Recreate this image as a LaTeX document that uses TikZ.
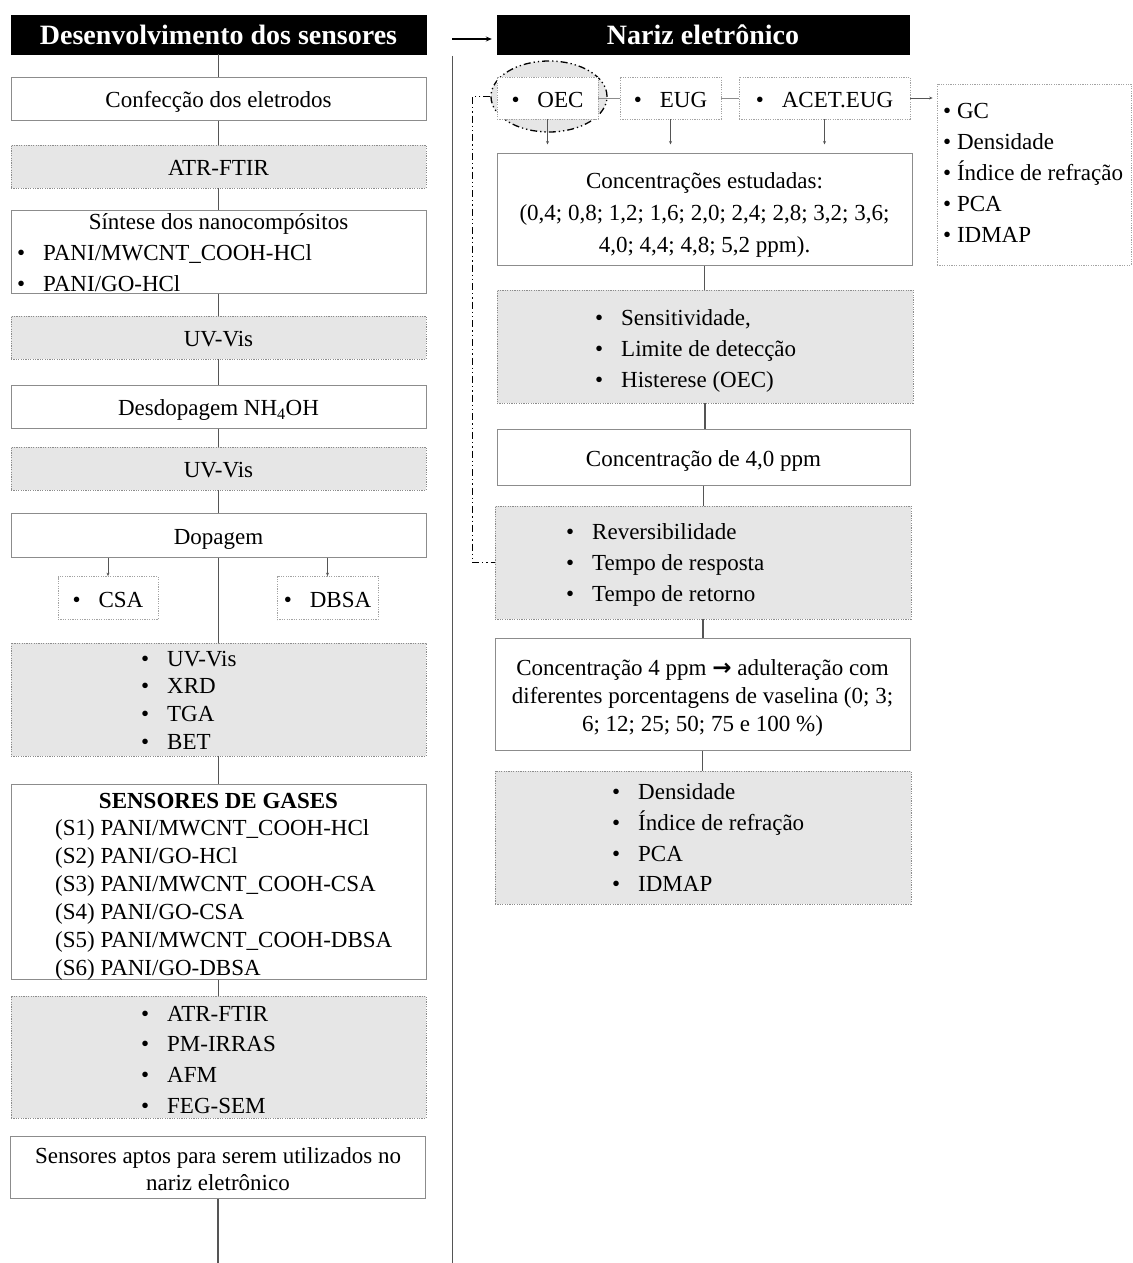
\documentclass[tikz,border=0pt]{standalone}
\usepackage{fontspec}
\setmainfont{Liberation Serif}
\newfontfamily\arrowfont{DejaVu Sans}
\usetikzlibrary{shapes.geometric,arrows.meta}
\definecolor{boxgray}{HTML}{E6E6E6}
\definecolor{edgegray}{HTML}{8C8C8C}
\definecolor{linkgray}{HTML}{555555}
\newcommand{\bul}{\makebox[26pt][l]{•}}
\newcommand{\bodyfont}{\fontsize{23}{27.7}\selectfont}

\begin{document}
\begin{tikzpicture}[x=1pt,y=-1pt,
    font=\bodyfont,
    titlebox/.style={fill=black,draw=black,text=white,font=\fontsize{28}{32}\selectfont\bfseries,minimum width=415pt,minimum height=39pt,inner sep=0pt},
    whitebox/.style={draw=edgegray,line width=1pt,fill=white,minimum width=415pt,inner sep=0pt},
    graybox/.style={draw=edgegray,dash pattern=on 1.2pt off 1.2pt,line width=0.9pt,fill=boxgray,minimum width=415pt,inner sep=0pt},
    tagbox/.style={draw=edgegray!80,dash pattern=on 1.2pt off 1.2pt,line width=0.8pt,fill=white,minimum height=43pt,inner sep=0pt},
    oneline/.style={text height=20pt,text depth=2pt},
    lnk/.style={draw=linkgray,line width=1.8pt},
    sidelnk/.style={draw=edgegray,line width=0.8pt},
    thinarrow/.style={draw=linkgray,line width=0.6pt,-{Stealth[length=3.5pt,width=3pt]}},
    dashdotdot/.style={draw=black,line width=1.3pt,dash pattern=on 7pt off 3pt on 1.3pt off 3pt on 1.3pt off 3pt},
    bitem/.style={anchor=base west,inner sep=0pt}]
  \useasboundingbox (0,0) rectangle (1132,1263);

  % left column: sensor development
  \node[titlebox] (tdev) at (218.5,34.5) {Desenvolvimento dos sensores};
  \node[whitebox,oneline,minimum height=43pt] (conf) at (218.5,98.5) {Confecção dos eletrodos};
  \node[graybox,oneline,minimum height=43pt] (ftir) at (218.5,166.5) {ATR-FTIR};
  \node[whitebox,minimum height=83pt] (sint) at (218.5,251.5) {};
  \node[anchor=base] (sinttit) at (218.5,229.5) {Síntese dos nanocompósitos};
  \foreach \t [count=\i] in {PANI/MWCNT\_COOH-HCl,PANI/GO-HCl}
    \node[bitem] (sintb\i) at (17,{260.5+30.5*(\i-1)}) {\bul\t};
  \node[graybox,oneline,minimum height=43pt] (uv1) at (218.5,337.5) {UV-Vis};
  \node[whitebox,oneline,minimum height=43pt] (desd) at (218.5,406.5) {Desdopagem NH\textsubscript{4}OH};
  \node[graybox,oneline,minimum height=43pt] (uv2) at (218.5,468.5) {UV-Vis};
  \node[whitebox,oneline,minimum height=44pt] (dop) at (218.5,535) {Dopagem};
  \node[tagbox,oneline,minimum width=100pt] (csa) at (108,598) {\bul CSA};
  \node[tagbox,oneline,minimum width=101pt] (dbsa) at (327.5,598) {\bul DBSA};

  \node[graybox,minimum height=113pt] (caracA) at (218.5,699.5) {};
  \foreach \t [count=\i] in {UV-Vis,XRD,TGA,BET}
    \node[bitem] (lstA\i) at (141,{666+27.8*(\i-1)}) {\bul\t};

  \node[whitebox,minimum height=195pt] (sens) at (218.5,881.5) {};
  \node[anchor=base,font=\bodyfont\bfseries] (senstit) at (218.5,808) {SENSORES DE GASES};
  \foreach \t [count=\i] in {(S1) PANI/MWCNT\_COOH-HCl,(S2) PANI/GO-HCl,(S3) PANI/MWCNT\_COOH-CSA,
      (S4) PANI/GO-CSA,(S5) PANI/MWCNT\_COOH-DBSA,(S6) PANI/GO-DBSA}
    \node[bitem] (sensS\i) at (55,{835.5+28*(\i-1)}) {\t};

  \node[graybox,minimum height=122pt] (caracB) at (218.5,1057) {};
  \foreach \t [count=\i] in {ATR-FTIR,PM-IRRAS,AFM,FEG-SEM}
    \node[bitem] (lstB\i) at (141,{1021+30.7*(\i-1)}) {\bul\t};

  \node[whitebox,minimum height=62pt] (aptos) at (218,1167) {};
  \node[align=center,font=\fontsize{23}{27}\selectfont] (aptost) at (218,1169)
    {Sensores aptos para serem utilizados no\\nariz eletrônico};
  \coordinate (endL) at (218,1263);

  \foreach \a/\b in {tdev/conf,conf/ftir,ftir/sint,sint/uv1,uv1/desd,desd/uv2,uv2/dop,dop/caracA,caracA/sens,sens/caracB}
    \draw[lnk] (\a.south) -- (\a.south |- \b.north);
  \draw[lnk] (aptos.south) -- (endL);
  \draw[thinarrow] (dop.south -| csa) -- (csa.north);
  \draw[thinarrow] (dop.south -| dbsa) -- (dbsa.north);

  % divider and arrow to the right column
  \coordinate (divtop) at (452.5,56);
  \coordinate (divbot) at (452.5,1263);
  \draw[lnk] (divtop) -- (divbot);
  \node[titlebox,minimum width=412pt] (tnar) at (703,34.5) {Nariz eletrônico};
  \coordinate (arrstart) at (452,39);
  \draw[draw=black,line width=1.2pt,-{Stealth[length=6pt,width=5pt]},shorten >=5pt] (arrstart) -- (arrstart -| tnar.west);

  % right column: electronic nose
  \node[ellipse,dashdotdot,fill=boxgray,minimum width=116pt,minimum height=71pt,inner sep=0pt] (ell) at (549,96.5) {};
  \node[tagbox,oneline,minimum width=101pt,minimum height=42pt] (oec) at (547.5,98) {\bul OEC};
  \node[tagbox,oneline,minimum width=101pt,minimum height=42pt] (eug) at (670.5,98) {\bul EUG};
  \node[tagbox,oneline,minimum width=171pt,minimum height=42pt] (acet) at (824.5,98) {\bul ACET.EUG};
  \node[tagbox,minimum width=194pt,minimum height=181pt] (gc) at (1034,174.5) {};
  \foreach \t [count=\i] in {GC,Densidade,Índice de refração,PCA,IDMAP}
    \node[bitem] (gcl\i) at (943,{118+31.2*(\i-1)}) {•~\t};
  \draw[sidelnk] (oec.east) -- (eug.west);
  \draw[sidelnk] (eug.east) -- (acet.west);
  \draw[thinarrow,shorten >=4pt] (acet.east) -- (acet.east -| gc.west);

  \node[whitebox,minimum height=112pt] (conc) at (704.5,209) {};
  \node[align=center,font=\fontsize{23}{32}\selectfont] (conct) at (704.5,215)
    {Concentrações estudadas:\\(0,4; 0,8; 1,2; 1,6; 2,0; 2,4; 2,8; 3,2; 3,6;\\4,0; 4,4; 4,8; 5,2 ppm).};
  \foreach \n in {oec,eug,acet}
    \draw[thinarrow,shorten >=8pt] (\n.south) -- (\n.south |- conc.north);

  \node[graybox,minimum width=416pt,minimum height=113pt] (sensi) at (705,346.5) {};
  \foreach \t [count=\i] in {{Sensitividade,},Limite de detecção,Histerese (OEC)}
    \node[bitem] (lstC\i) at (595,{325+31.2*(\i-1)}) {\bul\t};
  \node[whitebox,oneline,minimum width=413pt,minimum height=56pt] (c40) at (703.5,457) {Concentração de 4,0 ppm};
  \node[graybox,minimum width=416pt,minimum height=113pt] (rever) at (703,562.5) {};
  \foreach \t [count=\i] in {Reversibilidade,Tempo de resposta,Tempo de retorno}
    \node[bitem] (lstD\i) at (566,{539.5+31*(\i-1)}) {\bul\t};
  \node[whitebox,minimum width=415pt,minimum height=112pt] (adult) at (702.5,694) {};
  \node[align=center,font=\fontsize{23}{28}\selectfont] (adultt) at (702.5,698)
    {Concentração 4 ppm {\arrowfont\bfseries →} adulteração com\\diferentes porcentagens de vaselina (0; 3;\\6; 12; 25; 50; 75 e 100 \%)};
  \node[graybox,minimum width=416pt,minimum height=133pt] (final) at (703,837.5) {};
  \foreach \t [count=\i] in {Densidade,Índice de refração,PCA,IDMAP}
    \node[bitem] (lstE\i) at (612,{799.5+30.8*(\i-1)}) {\bul\t};

  \foreach \a/\b in {conc/sensi,sensi/c40,c40/rever,rever/adult,adult/final}
    \draw[lnk] (\a.south) -- (\a.south |- \b.north);
  \draw[dashdotdot] (ell.west) -- ++(-18,0) |- (rever.west);
\end{tikzpicture}
\end{document}
